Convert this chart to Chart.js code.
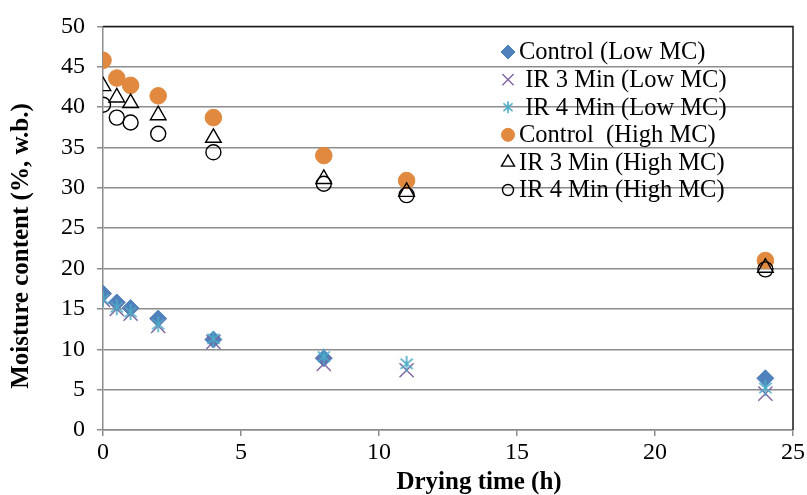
<!DOCTYPE html>
<html>
<head>
<meta charset="utf-8">
<script src="https://cdn.jsdelivr.net/npm/chart.js@4.4.1/dist/chart.umd.min.js"></script>
<style>
html,body{margin:0;padding:0;background:#fff;}
#wrap{width:807px;height:495px;}
</style>
</head>
<body>
<div id="wrap"><canvas id="c" width="807" height="495"></canvas></div>
<script>
// Data
const dryingTime = [0, 0.5, 1, 2, 4, 8, 11, 24];
const controlLow = [16.9, 15.8, 15.1, 13.8, 11.2, 8.9, null, 6.4];
const ir3Low = [16.1, 15.0, 14.4, 12.9, 10.9, 8.2, 7.4, 4.5];
const ir4Low = [16.2, 15.2, 14.6, 13.1, 11.3, 9.1, 8.2, 5.2];
const controlHigh = [45.8, 43.6, 42.7, 41.4, 38.7, 34.0, 30.9, 21.0];
const ir3High = [42.6, 41.2, 40.5, 39.0, 36.2, 31.1, 29.5, 20.1];
const ir4High = [40.3, 38.7, 38.1, 36.7, 34.4, 30.5, 29.1, 19.9];
const seriesLabels = ['Control (Low MC)', ' IR 3 Min (Low MC)', ' IR 4 Min (Low MC)', 'Control  (High MC)', 'IR 3 Min (High MC)', 'IR 4 Min (High MC)'];
const xTitle = 'Drying time (h)';
const yTitle = 'Moisture content (%, w.b.)';
const yTicks = [0, 50, 5];
const xTicks = [0, 25, 5];

const FONT = "'Liberation Serif', 'Times New Roman', serif";

function asterisk(size, color) {
  const cv = document.createElement('canvas');
  cv.width = size; cv.height = size;
  const g = cv.getContext('2d');
  g.strokeStyle = color; g.lineWidth = 1.6;
  const c = size / 2, r = size / 2 - 1;
  g.beginPath();
  g.moveTo(c, c - r); g.lineTo(c, c + r);
  const a = Math.PI / 180 * 40;
  g.moveTo(c - r * Math.cos(a), c - r * Math.sin(a)); g.lineTo(c + r * Math.cos(a), c + r * Math.sin(a));
  g.moveTo(c - r * Math.cos(a), c + r * Math.sin(a)); g.lineTo(c + r * Math.cos(a), c - r * Math.sin(a));
  g.stroke();
  return cv;
}
const astBig = asterisk(18, '#4BACC6');
const astSmall = asterisk(14, '#4BACC6');

function pts(arr) { return dryingTime.map((t, i) => arr[i] == null ? null : ({x: t, y: arr[i]})).filter(p => p); }

const styles = [
  {pointStyle: 'rectRot', radius: 8.5, bg: '#4F81BD', bc: '#4F81BD', bw: 1, lr: 7},
  {pointStyle: 'crossRot', radius: 10, bg: '#8064A2', bc: '#8064A2', bw: 1.4, lr: 8},
  {pointStyle: astBig, radius: 8, bg: '#4BACC6', bc: '#4BACC6', bw: 1.4, lr: 7, legendImg: astSmall},
  {pointStyle: 'circle', radius: 8.3, bg: '#E0893F', bc: '#E0893F', bw: 1, lr: 6.5},
  {pointStyle: 'triangle', radius: 9, bg: 'rgba(0,0,0,0)', bc: '#000', bw: 1.4, lr: 7.5},
  {pointStyle: 'circle', radius: 7.5, bg: 'rgba(0,0,0,0)', bc: '#000', bw: 1.4, lr: 5.5}
];
const allSeries = [controlLow, ir3Low, ir4Low, controlHigh, ir3High, ir4High];

const datasets = allSeries.map((s, i) => ({
  label: seriesLabels[i],
  data: pts(s),
  pointStyle: styles[i].pointStyle,
  pointRadius: styles[i].radius,
  pointHoverRadius: styles[i].radius,
  backgroundColor: styles[i].bg,
  borderColor: styles[i].bc,
  pointBorderWidth: styles[i].bw,
  showLine: false,
  order: 10 - i
}));

const framePlugin = {
  id: 'frame',
  afterDraw(chart) {
    const {ctx, chartArea: a} = chart;
    ctx.save();
    ctx.strokeStyle = '#1a1a1a';
    ctx.lineWidth = 1.5;
    ctx.beginPath();
    ctx.moveTo(a.left, a.top); ctx.lineTo(a.right, a.top); ctx.lineTo(a.right, a.bottom);
    ctx.stroke();
    // axis titles
    ctx.fillStyle = '#000';
    ctx.font = "bold 25px " + FONT;
    ctx.textAlign = 'center';
    ctx.textBaseline = 'middle';
    ctx.fillText(xTitle, 479, 483);
    ctx.translate(22, 246);
    ctx.rotate(-Math.PI / 2);
    ctx.fillText(yTitle, 0, 0);
    ctx.restore();
  }
};

const legendPlugin = {
  id: 'customLegend',
  afterDraw(chart) {
    const ctx = chart.ctx;
    const x0 = 508, textX = 519, y0 = 52, step = 27.6;
    ctx.save();
    ctx.font = "24.5px " + FONT;
    ctx.textBaseline = 'middle';
    ctx.fillStyle = '#000';
    seriesLabels.forEach((lab, i) => {
      const st = styles[i];
      const y = y0 + i * step;
      ctx.fillStyle = st.bg; ctx.strokeStyle = st.bc; ctx.lineWidth = st.bw;
      Chart.helpers.drawPoint(ctx, {pointStyle: st.legendImg || st.pointStyle, radius: st.lr, rotation: 0, borderWidth: st.bw}, x0, y);
      ctx.fillStyle = '#000';
      ctx.fillText(lab, textX, y + 1);
    });
    ctx.restore();
  }
};

new Chart(document.getElementById('c'), {
  type: 'scatter',
  data: {datasets},
  options: {
    responsive: false,
    devicePixelRatio: 1,
    animation: false,
    layout: {padding: {left: 0, right: 12, top: 23, bottom: 0}},
    plugins: {legend: {display: false}, tooltip: {enabled: false}},
    scales: {
      x: {
        type: 'linear', min: xTicks[0], max: xTicks[1],
        ticks: {stepSize: xTicks[2], color: '#000', font: {family: FONT, size: 24}, padding: 2, maxRotation: 0},
        grid: {drawOnChartArea: false, color: '#8c8c8c', lineWidth: 1.5, tickLength: 6},
        border: {color: '#8c8c8c', width: 1.5},
        title: {display: false},
        afterFit(scale) { scale.height = 65; }
      },
      y: {
        type: 'linear', min: yTicks[0], max: yTicks[1],
        ticks: {stepSize: yTicks[2], color: '#000', font: {family: FONT, size: 24}, padding: 12},
        grid: {color: '#8c8c8c', lineWidth: 1.5, tickLength: 6},
        border: {color: '#8c8c8c', width: 1.5},
        title: {display: false},
        afterFit(scale) { scale.width = 103; }
      }
    }
  },
  plugins: [framePlugin, legendPlugin]
});
</script>
</body>
</html>
